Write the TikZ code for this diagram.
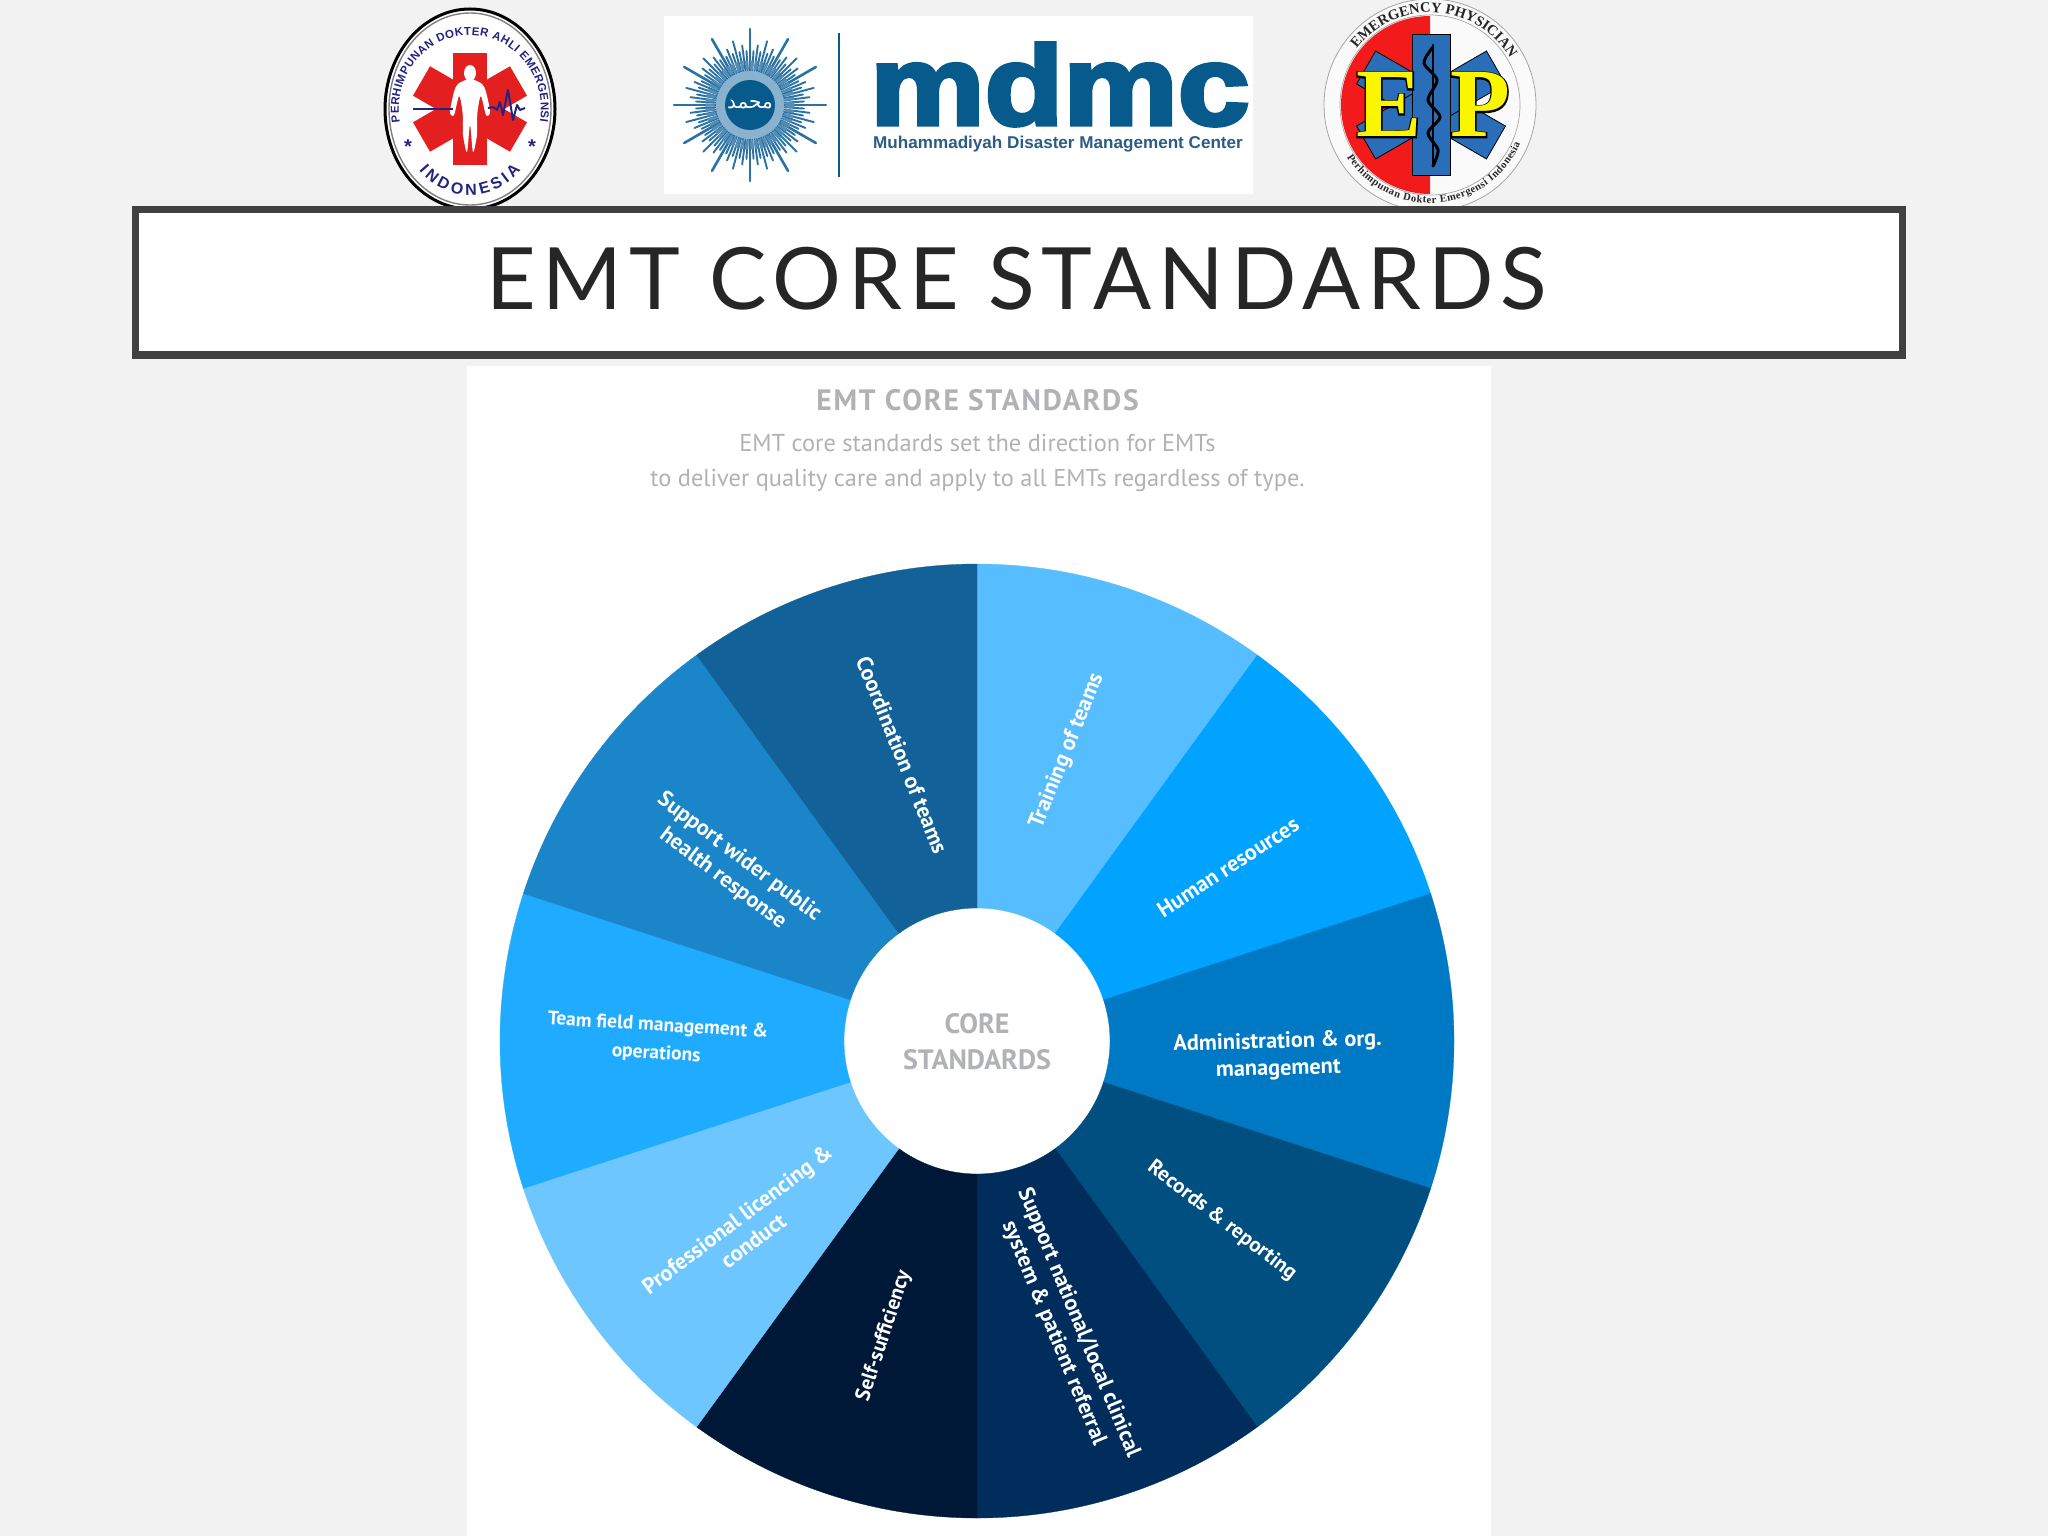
\documentclass[tikz,border=0pt]{standalone}
\usepackage{fontspec}
\usetikzlibrary{decorations.text}
\TeXXeTstate=1
\newfontfamily\dinfont{PT Sans}
\newfontfamily\headfont[LetterSpace=6.2]{PT Sans}
\newfontfamily\titlefont[LetterSpace=8.1]{Lato}
\newfontfamily\arabicfont[Script=Arabic]{DejaVu Sans}
\newfontfamily\lsans{Liberation Sans}
\newfontfamily\lserif{Liberation Serif}
\newfontfamily\mdmcfont[FakeBold=4,FakeStretch=1.15]{Liberation Sans Bold}
\newfontfamily\backfont[FakeBold=3]{Liberation Serif Bold}
\definecolor{pagebg}{HTML}{F2F2F2}
\definecolor{framegray}{HTML}{404040}
\definecolor{titleink}{HTML}{262626}
\definecolor{softgray}{HTML}{B0B2B5}
\definecolor{mdblue}{HTML}{075B8C}
\definecolor{mdsub}{HTML}{2A5C85}
\definecolor{sunblue}{HTML}{2A72A3}
\definecolor{pdeblue}{HTML}{24237F}
\definecolor{pdered}{HTML}{E3201F}
\definecolor{epred}{HTML}{F21A1A}
\definecolor{epblue}{HTML}{2A6DB8}
\definecolor{epyellow}{HTML}{FBF500}
\definecolor{segA}{HTML}{56BDFF}
\definecolor{segB}{HTML}{00A3FF}
\definecolor{segC}{HTML}{0079C4}
\definecolor{segD}{HTML}{004F80}
\definecolor{segE}{HTML}{002D5C}
\definecolor{segF}{HTML}{001837}
\definecolor{segG}{HTML}{6EC6FF}
\definecolor{segH}{HTML}{1FABFF}
\definecolor{segI}{HTML}{1A85C8}
\definecolor{segJ}{HTML}{126198}
\newcommand{\wheelseg}[3]{\fill[#3,draw=#3,line width=.3pt] ([shift={(#1:133)}]977,-1041) arc[start angle=#1,end angle=#2,radius=133] -- ([shift={(#2:477)}]977,-1041) arc[start angle=#2,end angle=#1,radius=477] -- cycle;}
\tikzset{
  wheeltext/.style={text=white,align=center,inner sep=0pt,font=\dinfont\bfseries\fontsize{22.3}{27}\selectfont},
  wheelmid/.style={wheeltext,font=\dinfont\bfseries\fontsize{21}{26}\selectfont},
  wheelsmall/.style={wheeltext,font=\dinfont\bfseries\fontsize{19.5}{28}\selectfont},
  greytext/.style={text=softgray,align=center,inner sep=0pt},
  staram/.style={fill=pdered},
  eparm/.style={fill=epblue,draw=black,line width=.8pt},
}
\begin{document}
\begin{tikzpicture}[x=1pt,y=1pt]
\useasboundingbox (0,0) rectangle (2048,-1536);
\fill[pagebg] (0,0) rectangle (2048,-1536);

% ---------- logo 1
\fill[white,draw=black,line width=3pt] (470,-109) ellipse[x radius=85,y radius=100];
\draw[gray,line width=1.4pt] (470,-109) ellipse[x radius=81,y radius=96];
\foreach \a in {0,60,120}{\fill[staram,rotate around={\a:(470,-109)}] (453,-53) rectangle (487,-165);}
\fill[white] (470,-73) ellipse[x radius=6,y radius=8];
\fill[white] plot[smooth cycle,tension=.5] coordinates {(472,-79)(482,-84)(486,-92)(490,-112)(486,-115)(481,-96)(478,-108)(477,-120)(477,-135)(473,-152)(470,-125)(467,-152)(463,-135)(463,-120)(462,-108)(459,-96)(454,-115)(450,-112)(454,-92)(458,-84)(468,-79)};
\draw[pdeblue,line width=2.6pt] (413,-109) -- (453,-109);
\draw[pdeblue,line width=2pt,line join=round] (488,-108) -- (493,-107) -- (497,-110) -- (500,-102) -- (503,-115) -- (508,-90) -- (513,-120) -- (517,-105) -- (520,-110) -- (525,-108);
\path[decorate,decoration={text along path,text format delimiters={|}{|},text={|\lsans\bfseries\fontsize{11.5}{12}\selectfont\color{pdeblue}|PERHIMPUNAN DOKTER AHLI EMERGENSI},text align=fit to path}] (400,-122) arc[start angle=190,end angle=-10,x radius=71,y radius=74];
\path[decorate,decoration={text along path,text format delimiters={|}{|},text={|\lsans\bfseries\fontsize{16}{17}\selectfont\color{pdeblue}|INDONESIA},text align=fit to path}] (419,-170) arc[start angle=225,end angle=315,x radius=72,y radius=86];
\node[inner sep=0pt,text=pdeblue,font=\lsans\bfseries\fontsize{20}{20}\selectfont] (starL) at (408,-147) {*};
\node[inner sep=0pt,text=pdeblue,font=\lsans\bfseries\fontsize{20}{20}\selectfont] (starR) at (532,-147) {*};

% ---------- logo 2
\fill[white] (664,-16) rectangle (1253,-194);
\foreach \i in {0,...,95}{
  \pgfmathsetmacro{\ang}{\i*3.75}
  \pgfmathtruncatemacro{\m}{mod(\i,8)}
  \pgfmathsetmacro{\rr}{\m==0?76:(\m==4?66:(\m==2||\m==6?60:54))}
  \pgfmathsetmacro{\ww}{\m==0?2.6:1.9}
  \draw[sunblue,line width=\ww pt,line cap=round] ([shift={(\ang:28)}]750,-105) -- ([shift={(\ang:\rr)}]750,-105);
}
\draw[sunblue!80!white,line width=9pt,dash pattern=on 3pt off 1.6pt] (750,-105) circle[radius=40];
\fill[sunblue!55!white] (750,-105) circle[radius=34];
\fill[mdblue] (750,-105) circle[radius=25];
\node[inner sep=0pt,text=white,font=\arabicfont\fontsize{20}{20}\selectfont] (sunname) at (750,-105) {\beginR محمد\endR};
\draw[mdblue,line width=2.6pt] (839,-33) -- (839,-177);
\node[anchor=base west,inner sep=0pt,text=mdblue,font=\mdmcfont\fontsize{112}{112}\selectfont] (mdmc) at (870,-124.5) {mdmc};
\node[anchor=base west,inner sep=0pt,text=mdsub,font=\lsans\bfseries\fontsize{17.1}{18}\selectfont] (mdmcsub) at (873,-149) {Muhammadiyah Disaster Management Center};

% ---------- logo 3
\fill[white!60!pagebg,draw=gray!70,line width=.8pt] (1430,-105) circle[radius=106];
\draw[gray!70,line width=.7pt] (1430,-105) circle[radius=90];
\fill[epred] (1430,-16) arc[start angle=90,end angle=270,radius=89] -- cycle;
\foreach \a in {60,120}{\fill[eparm,rotate around={\a:(1431,-105)}] (1412,-30) rectangle (1450,-180);}
\fill[eparm] (1412,-34) rectangle (1450,-175);
\path[decorate,decoration={text along path,text format delimiters={|}{|},text={|\lserif\bfseries\fontsize{14.5}{15}\selectfont\color{black!85}|EMERGENCY PHYSICIAN},text align=fit to path}] (1356.7,-49) arc[start angle=143,end angle=30,radius=92];
\path[decorate,decoration={text along path,text format delimiters={|}{|},text={|\lserif\bfseries\fontsize{10.5}{11}\selectfont\color{black!85}|Perhimpunan Dokter Emergensi Indonesia},text align=fit to path}] (1347,-157) arc[start angle=212,end angle=337,radius=98];
\node[anchor=base west,inner sep=0pt,text=black,font=\backfont\fontsize{98}{98}\selectfont] (Eback) at (1356,-137) {E};
\node[anchor=base west,inner sep=0pt,text=black,font=\backfont\fontsize{98}{98}\selectfont] (Pback) at (1450,-137) {P};
\node[anchor=base west,inner sep=0pt,text=epyellow,font=\lserif\bfseries\fontsize{98}{98}\selectfont] (Etext) at (1356,-137) {E};
\node[anchor=base west,inner sep=0pt,text=epyellow,font=\lserif\bfseries\fontsize{98}{98}\selectfont] (Ptext) at (1450,-137) {P};
\draw[black,line width=2.6pt,line cap=round] (1433,-45) -- (1433,-166);
\draw[black,line width=3pt,line cap=round] plot[smooth] coordinates {(1433,-47)(1424,-63)(1437,-80)(1428,-100)(1440,-117)(1428,-133)(1438,-150)(1433,-166)};

% ---------- title bar
\draw[framegray,fill=white,line width=7.5pt] (135.5,-209.5) rectangle (1902.5,-355);
\node[anchor=base,inner sep=0pt,text=titleink,font=\titlefont\fontsize{86}{90}\selectfont] (title) at (1016.5,-309) {EMT CORE STANDARDS};

% ---------- white panel
\fill[white] (467,-366) rectangle (1491,-1536);
\node[greytext,font=\headfont\bfseries\fontsize{29.5}{32}\selectfont] (head) at (977.5,-400) {EMT CORE STANDARDS};
\node[greytext,font=\dinfont\fontsize{24.4}{35}\selectfont] (sub) at (977.5,-462.5) {EMT core standards set the direction for EMTs\\to deliver quality care and apply to all EMTs regardless of type.};

% ---------- wheel
\wheelseg{90}{54}{segA}
\wheelseg{54}{18}{segB}
\wheelseg{18}{-18}{segC}
\wheelseg{-18}{-54}{segD}
\wheelseg{-54}{-90}{segE}
\wheelseg{-90}{-126}{segF}
\wheelseg{-126}{-162}{segG}
\wheelseg{-162}{-198}{segH}
\wheelseg{-198}{-234}{segI}
\wheelseg{-234}{-270}{segJ}
\node[wheeltext,rotate=68] (tr) at (1067,-751) {Training of teams};
\node[wheeltext,rotate=33] (hr) at (1228,-867) {Human resources};
\node[wheeltext,rotate=1.5] (ad) at (1278,-1056) {Administration \& org.\\management};
\node[wheelmid,rotate=-37.5] (re) at (1222,-1221) {Records \& reporting};
\node[wheeltext,rotate=-67.5] (sn) at (1066,-1328) {Support national/local clinical\\system \& patient referral};
\node[wheelmid,rotate=72] (sf) at (884,-1336) {Self-sufficiency};
\node[wheeltext,rotate=37] (pl) at (745,-1230) {Professional licencing \&\\conduct};
\node[wheelsmall,rotate=-3.5] (tf) at (657,-1040) {Team field management \&\\operations};
\node[wheeltext,rotate=-37] (sw) at (731,-868) {Support wider public\\health response};
\node[wheeltext,rotate=-68] (co) at (902,-755) {Coordination of teams};
\node[greytext,font=\dinfont\bfseries\fontsize{28}{36}\selectfont] (core) at (977,-1042) {CORE\\STANDARDS};
\end{tikzpicture}
\end{document}
